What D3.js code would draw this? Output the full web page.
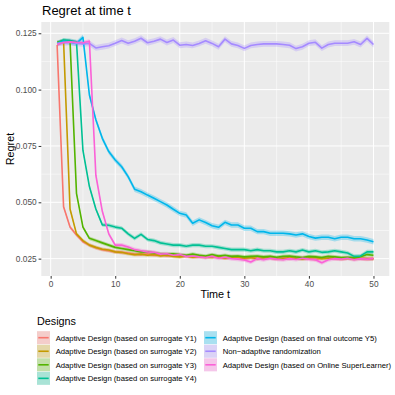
<!DOCTYPE html>
<html>
<head>
<meta charset="utf-8">
<script src="https://cdn.jsdelivr.net/npm/d3@7"></script>
<style>
  body { margin: 0; background: #fff; }
  text { font-family: "Liberation Sans", Arial, sans-serif; }
</style>
</head>
<body>
<div id="chart"></div>
<script>
var times = d3.range(1, 51)

var names = [
    "Adaptive Design (based on surrogate Y1)",
    "Adaptive Design (based on surrogate Y2)",
    "Adaptive Design (based on surrogate Y3)",
    "Adaptive Design (based on surrogate Y4)",
    "Adaptive Design (based on final outcome Y5)",
    "Non\u2212adaptive randomization",
    "Adaptive Design (based on Online SuperLearner)"
]
var colors = ["#F8766D", "#C49A00", "#53B400", "#00C094", "#00B6EB", "#A58AFF", "#FB61D7"]

var regret_y1 = [0.1198, 0.048, 0.039, 0.0355, 0.0325, 0.031, 0.0298, 0.029, 0.0285, 0.028,
    0.0278, 0.0275, 0.027, 0.0268, 0.0272, 0.0265, 0.0268, 0.0262, 0.0265, 0.026,
    0.0262, 0.0258, 0.026, 0.0255, 0.0262, 0.0256, 0.0252, 0.0258, 0.0255, 0.0248,
    0.0255, 0.025, 0.0256, 0.0252, 0.0248, 0.0254, 0.025, 0.0255, 0.0252, 0.025,
    0.0246, 0.0252, 0.0255, 0.025, 0.0248, 0.0252, 0.0256, 0.025, 0.0248, 0.0252]
var regret_y2 = [0.120, 0.1215, 0.047, 0.036, 0.033, 0.031, 0.030, 0.0292, 0.0288, 0.028,
    0.0278, 0.0272, 0.0268, 0.027, 0.0265, 0.0268, 0.0262, 0.0265, 0.026, 0.0258,
    0.0262, 0.0256, 0.026, 0.0258, 0.0255, 0.026, 0.0252, 0.0256, 0.0258, 0.0252,
    0.0255, 0.025, 0.0254, 0.0256, 0.0252, 0.025, 0.0255, 0.0252, 0.0248, 0.0254,
    0.0256, 0.025, 0.0252, 0.0255, 0.025, 0.0252, 0.0248, 0.0252, 0.025, 0.0248]
var regret_y3 = [0.121, 0.1218, 0.1215, 0.054, 0.039, 0.034, 0.033, 0.032, 0.031, 0.030,
    0.0295, 0.029, 0.0285, 0.028, 0.028, 0.0275, 0.0272, 0.027, 0.0272, 0.0268,
    0.0265, 0.027, 0.0265, 0.0262, 0.0268, 0.0262, 0.0265, 0.026, 0.0262, 0.0258,
    0.026, 0.0262, 0.0258, 0.026, 0.0256, 0.026, 0.0262, 0.0258, 0.0255, 0.026,
    0.0258, 0.0255, 0.026, 0.0258, 0.0255, 0.0256, 0.0254, 0.0258, 0.0268, 0.0265]
var regret_y4 = [0.1205, 0.122, 0.1218, 0.1212, 0.073, 0.057, 0.047, 0.040, 0.0398, 0.039,
    0.0385, 0.036, 0.034, 0.0358, 0.0335, 0.033, 0.032, 0.0315, 0.031, 0.031,
    0.0305, 0.031, 0.031, 0.0305, 0.0305, 0.030, 0.0295, 0.029, 0.029, 0.029,
    0.0285, 0.029, 0.0285, 0.0285, 0.028, 0.028, 0.0285, 0.028, 0.0288, 0.028,
    0.0285, 0.0278, 0.028, 0.0285, 0.028, 0.0275, 0.026, 0.0262, 0.028, 0.028]
var regret_y5 = [0.1205, 0.1215, 0.121, 0.1205, 0.1232, 0.0976, 0.0866, 0.0784, 0.0725, 0.0688,
    0.0658, 0.0614, 0.0558, 0.0547, 0.0532, 0.0518, 0.0503, 0.0488, 0.0469, 0.0451,
    0.0444, 0.0407, 0.0422, 0.041, 0.0396, 0.0389, 0.0411, 0.0399, 0.0399, 0.0385,
    0.0385, 0.037, 0.037, 0.0363, 0.0363, 0.0363, 0.036, 0.0355, 0.036, 0.0348,
    0.0341, 0.0345, 0.0345, 0.0338, 0.0345, 0.0345, 0.0338, 0.0338, 0.0333, 0.0325]
var regret_rand = [0.1205, 0.1208, 0.121, 0.1205, 0.1203, 0.1205, 0.1185, 0.119, 0.1195, 0.1206,
    0.1218, 0.1206, 0.1215, 0.1228, 0.1208, 0.1215, 0.1224, 0.1209, 0.122, 0.1197,
    0.12, 0.1196, 0.1205, 0.1217, 0.1205, 0.119, 0.1224, 0.1203, 0.1196, 0.1183,
    0.1196, 0.12, 0.1203, 0.1203, 0.1203, 0.12, 0.1197, 0.1182, 0.119, 0.1206,
    0.121, 0.1184, 0.12, 0.1206, 0.1206, 0.1206, 0.1212, 0.12, 0.1227, 0.12]
var regret_osl = [0.120, 0.121, 0.1212, 0.121, 0.1208, 0.1215, 0.062, 0.046, 0.036, 0.031,
    0.031, 0.0302, 0.029, 0.0285, 0.028, 0.0278, 0.027, 0.0272, 0.0265, 0.0268,
    0.026, 0.0262, 0.0258, 0.0255, 0.026, 0.0252, 0.0256, 0.025, 0.0248, 0.0244,
    0.0235, 0.025, 0.0245, 0.0252, 0.0248, 0.0245, 0.025, 0.0246, 0.0252, 0.0248,
    0.0245, 0.0232, 0.0245, 0.025, 0.0248, 0.0252, 0.0245, 0.025, 0.0248, 0.025]
// half width of the confidence band for each design
var band = [0.0008, 0.0008, 0.0008, 0.0009, 0.0012, 0.0013, 0.0009]

var xTicks = [0, 10, 20, 30, 40, 50]
var yTicks = [0.025, 0.050, 0.075, 0.100, 0.125]

var series = [regret_y1, regret_y2, regret_y3, regret_y4, regret_y5, regret_rand, regret_osl]

var W = 395, H = 395
var svg = d3.select("#chart").append("svg")
    .attr("width", W)
    .attr("height", H)

var panel = {left: 41.3, right: 389.3, top: 22, bottom: 276}

var x = d3.scaleLinear().domain([-1.45, 52.45]).range([panel.left, panel.right])
var y = d3.scaleLinear().domain([0.0173, 0.1300]).range([panel.bottom, panel.top])

// panel background + grid
svg.append("rect")
    .attr("x", panel.left).attr("y", panel.top)
    .attr("width", panel.right - panel.left)
    .attr("height", panel.bottom - panel.top)
    .attr("fill", "#EBEBEB")

var minorX = [5, 15, 25, 35, 45]
var minorY = [0.0375, 0.0625, 0.0875, 0.1125]
svg.selectAll(".gminx").data(minorX).enter().append("line")
    .attr("x1", d => x(d)).attr("x2", d => x(d))
    .attr("y1", panel.top).attr("y2", panel.bottom)
    .attr("stroke", "#fff").attr("stroke-width", 0.5)
svg.selectAll(".gminy").data(minorY).enter().append("line")
    .attr("y1", d => y(d)).attr("y2", d => y(d))
    .attr("x1", panel.left).attr("x2", panel.right)
    .attr("stroke", "#fff").attr("stroke-width", 0.5)
svg.selectAll(".gmajx").data(xTicks).enter().append("line")
    .attr("x1", d => x(d)).attr("x2", d => x(d))
    .attr("y1", panel.top).attr("y2", panel.bottom)
    .attr("stroke", "#fff").attr("stroke-width", 1)
svg.selectAll(".gmajy").data(yTicks).enter().append("line")
    .attr("y1", d => y(d)).attr("y2", d => y(d))
    .attr("x1", panel.left).attr("x2", panel.right)
    .attr("stroke", "#fff").attr("stroke-width", 1)

// ribbons then lines
var all = series.map(function (vals, i) {
    return {
        name: names[i],
        color: colors[i],
        band: band[i],
        values: vals.map(function (v, j) { return {t: times[j], v: v} })
    }
})

var line = d3.line()
    .x(d => x(d.t))
    .y(d => y(d.v))

var g = svg.append("g")
all.forEach(function (s) {
    var a = d3.area()
        .x(d => x(d.t))
        .y0(d => y(d.v - s.band))
        .y1(d => y(d.v + s.band))
    g.append("path")
        .attr("d", a(s.values))
        .attr("fill", s.color)
        .attr("fill-opacity", 0.3)
})
all.forEach(function (s) {
    g.append("path")
        .attr("d", line(s.values))
        .attr("fill", "none")
        .attr("stroke", s.color)
        .attr("stroke-width", 1.6)
        .attr("stroke-linejoin", "round")
})

// axes
var xAxis = svg.append("g")
    .attr("transform", "translate(0," + panel.bottom + ")")
    .call(d3.axisBottom(x).tickValues(xTicks).tickSize(2.7).tickPadding(2))
var yAxis = svg.append("g")
    .attr("transform", "translate(" + panel.left + ",0)")
    .call(d3.axisLeft(y).tickValues(yTicks).tickFormat(d3.format(".3f")).tickSize(2.7).tickPadding(2))
;[xAxis, yAxis].forEach(function (ax) {
    ax.select(".domain").remove()
    ax.selectAll(".tick line").attr("stroke", "#333333").attr("stroke-width", 1)
    ax.selectAll(".tick text")
        .attr("fill", "#4D4D4D")
        .style("font-size", "8.3px")
        .style("font-family", "Liberation Sans, Arial, sans-serif")
})

// titles
svg.append("text")
    .attr("x", 42).attr("y", 14.5)
    .style("font-size", "13px")
    .text("Regret at time t")
svg.append("text")
    .attr("x", (panel.left + panel.right) / 2).attr("y", 297.5)
    .attr("text-anchor", "middle")
    .style("font-size", "10.8px")
    .text("Time t")
svg.append("text")
    .attr("transform", "translate(13.5," + ((panel.top + panel.bottom) / 2) + ") rotate(-90)")
    .attr("text-anchor", "middle")
    .style("font-size", "10.8px")
    .text("Regret")

// legend
svg.append("text")
    .attr("x", 37).attr("y", 324.5)
    .style("font-size", "10.8px")
    .text("Designs")

var keyW = 13, keyH = 13, pitch = 13.55
var cols = [{kx: 37, tx: 55.7}, {kx: 204, tx: 222.7}]
all.forEach(function (s, i) {
    var c = i < 4 ? cols[0] : cols[1]
    var row = i < 4 ? i : i - 4
    var cy = 337.7 + row * pitch
    var k = svg.append("g")
    k.append("rect")
        .attr("x", c.kx).attr("y", cy - keyH / 2)
        .attr("width", keyW).attr("height", keyH)
        .attr("fill", "#F2F2F2")
    k.append("rect")
        .attr("x", c.kx).attr("y", cy - keyH / 2)
        .attr("width", keyW).attr("height", keyH)
        .attr("fill", s.color).attr("fill-opacity", 0.3)
    k.append("line")
        .attr("x1", c.kx + 1.3).attr("x2", c.kx + keyW - 1.3)
        .attr("y1", cy).attr("y2", cy)
        .attr("stroke", s.color).attr("stroke-width", 1.6)
    svg.append("text")
        .attr("x", c.tx).attr("y", cy + 2.8)
        .style("font-size", "7.7px")
        .attr("fill", "#000")
        .text(s.name)
})
</script>
</body>
</html>
